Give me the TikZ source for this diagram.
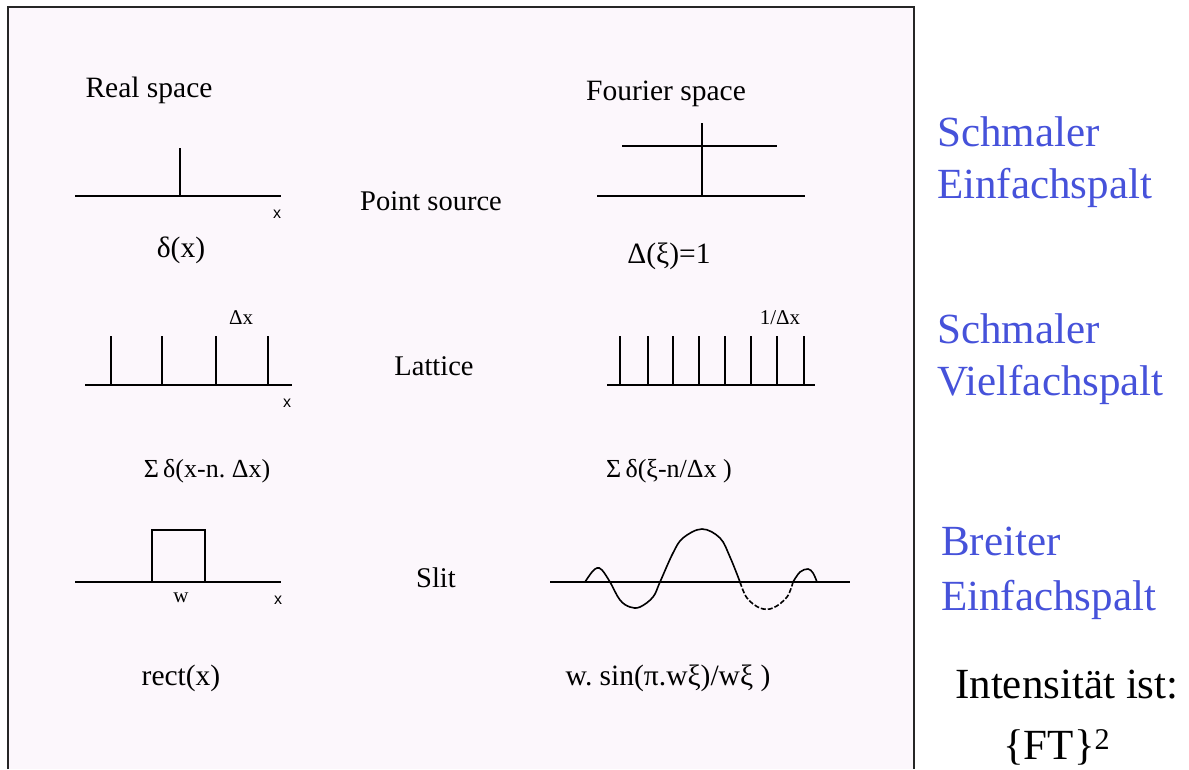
\documentclass[tikz,border=0pt]{standalone}
\usepackage{fontspec}
\setmainfont{Liberation Serif}
\setsansfont{Liberation Sans}
\definecolor{panel}{RGB}{252,247,252}
\definecolor{slitblue}{RGB}{70,82,218}

\begin{document}
\begin{tikzpicture}[x=1pt,y=-1pt,
  axis/.style={line width=1.6pt,line cap=butt},
  curve/.style={line width=1.6pt,smooth,tension=0.6},
  lbl/.style={font=\fontsize{29.5}{34}\selectfont,anchor=base,inner sep=0pt},
  sumlbl/.style={lbl,font=\fontsize{26}{30}\selectfont},
  small/.style={font=\fontsize{21}{24}\selectfont,anchor=base,inner sep=0pt},
  axlbl/.style={font=\sffamily\fontsize{16}{19}\selectfont,anchor=base,inner sep=0pt},
  note/.style={font=\fontsize{43}{52}\selectfont,anchor=base west,inner sep=0pt},
  spalt/.style={note,text=slitblue}]

  \useasboundingbox (0,0) rectangle (1189,769);

  % panel
  \fill[panel] (8,7) rectangle (914,769);
  \draw[line width=1.4pt,black!85] (8,769) -- (8,7) -- (914,7) -- (914,769);

  % column heads
  \node (real) [lbl] at (149,97) {Real space};
  \node (four) [lbl] at (666,100) {Fourier space};

  % point source
  \draw[axis] (75,196) -- (281,196);
  \draw[axis] (180,196) -- (180,148);
  \node (x1) [axlbl] at (277,218) {x};
  \node (delta) [lbl] at (181,257) {δ(x)};
  \node (point) [lbl,font=\fontsize{28.5}{34}\selectfont] at (431,210) {Point source};
  \draw[axis] (597,196) -- (805,196);
  \draw[axis] (622,146) -- (777,146);
  \draw[axis] (702,196) -- (702,123);
  \node (one) [lbl] at (669,263) {Δ(ξ)=1};

  % lattice
  \draw[axis] (85,385) -- (292,385);
  \foreach \px in {111,162,216,268}
    \draw[axis] (\px,385) -- (\px,336);
  \node (dx) [small] at (241,324) {Δx};
  \node (x2) [axlbl] at (287,407) {x};
  \node (latt) [lbl,font=\fontsize{28.5}{34}\selectfont] at (434,375) {Lattice};
  \node (sum1) [sumlbl] at (207,477) {Σ\,δ(x-n.\ Δx)};
  \draw[axis] (607,385) -- (815,385);
  \foreach \px in {620,648,673,699,725,751,777,804}
    \draw[axis] (\px,385) -- (\px,336);
  \node (invdx) [small] at (780,324) {1/Δx};
  \node (sum2) [sumlbl] at (669,477) {Σ\,δ(ξ-n/Δx )};

  % slit
  \draw[axis] (75,582) -- (281,582);
  \draw[axis] (152,582) -- (152,530) -- (205,530) -- (205,582);
  \node (w) [small] at (181,602) {w};
  \node (x3) [axlbl] at (278,604) {x};
  \node (slit) [lbl,font=\fontsize{28.5}{34}\selectfont] at (436,587) {Slit};
  \node (rect) [lbl] at (181,685) {rect(x)};
  \draw[axis] (550,582) -- (850,582);
  \draw[curve] plot coordinates {(585,582) (592,572) (597,568) (602,570)
    (610,582) (620,600) (630,607) (640,607) (653,597) (660,582) (673,553)
    (683,538) (702,529) (720,538) (730,557) (740,582)};
  \draw[curve,dash pattern=on 5pt off 2pt] plot coordinates {(740,582)
    (747,598) (760,608) (773,608) (787,597) (793,582)};
  \draw[curve] plot coordinates {(793,582) (800,572) (808,569) (813,573)
    (817,582)};
  \node (sinc) [lbl] at (668,685) {w.\ sin(π.wξ)/wξ )};

  % right column
  \node (s1) [spalt] at (937,146) {Schmaler};
  \node (s1b) [spalt] at ([yshift=-52pt]s1.base west) {Einfachspalt};
  \node (s2) [spalt] at (937,343) {Schmaler};
  \node (s2b) [spalt] at ([yshift=-52pt]s2.base west) {Vielfachspalt};
  \node (s3) [spalt] at (941,555) {Breiter};
  \node (s3b) [spalt] at ([yshift=-55pt]s3.base west) {Einfachspalt};
  \node (int) [note] at (955,698) {Intensität ist:};
  \node (ft) [note] at (1003,759) {\{FT\}\textsuperscript{2}};
\end{tikzpicture}
\end{document}
